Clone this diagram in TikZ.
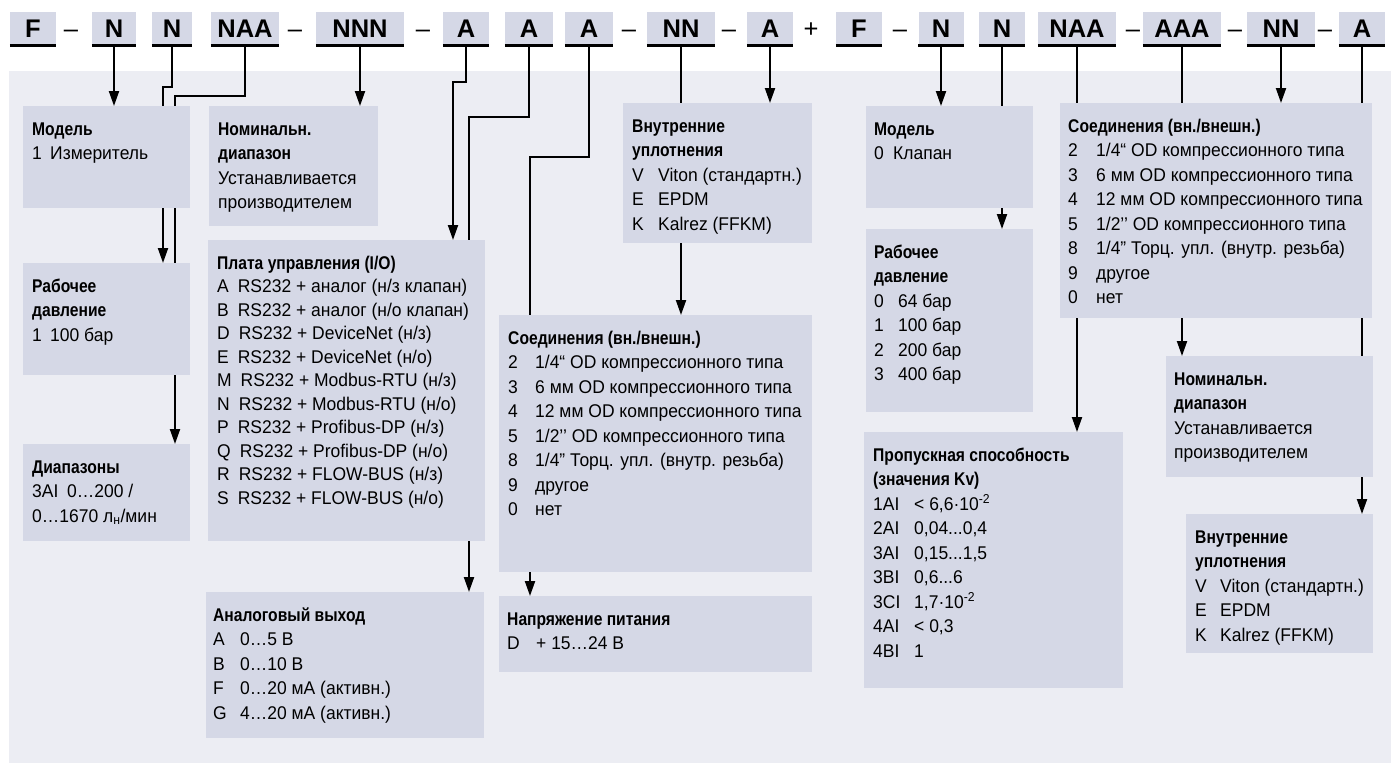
\documentclass[tikz,border=0pt]{standalone}
\usepackage{fontspec}
\setmainfont{Liberation Sans}[FakeStretch=0.95, BoldFeatures={FakeStretch=0.85}]
\newfontfamily\hdrf{Liberation Sans}
\usetikzlibrary{arrows.meta}
\definecolor{panelc}{RGB}{236,237,243}
\definecolor{boxc}{RGB}{213,216,230}
\pgfdeclarelayer{panel}
\pgfdeclarelayer{lines}
\pgfsetlayers{panel,lines,main}
\newcommand\kv[3][27]{\makebox[#1pt][l]{#2}#3}
\newcommand\bt[2][24.5]{{\fontsize{18.4pt}{#1pt}\selectfont\begin{tabular}[t]{@{}l@{}}#2\end{tabular}}}
\newcommand\pl[2]{#1\hspace{9pt}#2}
\tikzset{
  hbox/.style={fill=boxc, inner sep=0pt, minimum height=34pt, text height=18.3pt, text depth=0pt, font=\hdrf\bfseries\fontsize{25.5pt}{30pt}\selectfont},
  hsep/.style={inner sep=0pt, text height=18.3pt, text depth=0pt, font=\hdrf\fontsize{25.5pt}{30pt}\selectfont},
  uline/.style={line width=2.5pt},
  obox/.style={fill=boxc, anchor=north west, inner sep=0pt, outer sep=0pt},
  otxt/.style={anchor=base west, inner sep=0pt},
  conn/.style={line width=2pt, -{Triangle[width=10pt,length=15pt]}},
}
\begin{document}
\begin{tikzpicture}[x=1pt,y=-1pt]
\useasboundingbox (0,0) rectangle (1391,763);
\begin{pgfonlayer}{panel}
  \fill[panelc] (9,71) rectangle (1391,763);
\end{pgfonlayer}

% ---------- header ----------
\node[hbox, minimum width=46pt] (hF) at (33,28.5) {F};
\node[hsep] (s1) at (71,28.5) {–};
\node[hbox, minimum width=44pt] (hN1) at (114,28.5) {N};
\node[hbox, minimum width=40pt] (hN2) at (172,28.5) {N};
\node[hbox, minimum width=68pt] (hNAA) at (245,28.5) {NAA};
\node[hsep] (s2) at (295,28.5) {–};
\node[hbox, minimum width=88pt] (hNNN) at (360,28.5) {NNN};
\node[hsep] (s3) at (423,28.5) {–};
\node[hbox, minimum width=46pt] (hA1) at (466,28.5) {A};
\node[hbox, minimum width=48pt] (hA2) at (529,28.5) {A};
\node[hbox, minimum width=48pt] (hA3) at (589,28.5) {A};
\node[hsep] (s4) at (629,28.5) {–};
\node[hbox, minimum width=68pt] (hNN) at (681,28.5) {NN};
\node[hsep] (s5) at (729,28.5) {–};
\node[hbox, minimum width=46pt] (hA4) at (770,28.5) {A};
\node[hsep] (s6) at (811,28.5) {+};
\node[hbox, minimum width=46pt] (hF2) at (859,28.5) {F};
\node[hsep] (s7) at (900,28.5) {–};
\node[hbox, minimum width=45pt] (hN3) at (941,28.5) {N};
\node[hbox, minimum width=46pt] (hN4) at (1002,28.5) {N};
\node[hbox, minimum width=78pt] (hNAA2) at (1077,28.5) {NAA};
\node[hsep] (s8) at (1133,28.5) {–};
\node[hbox, minimum width=78pt] (hAAA) at (1182,28.5) {AAA};
\node[hsep] (s9) at (1235,28.5) {–};
\node[hbox, minimum width=68pt] (hNN2) at (1281,28.5) {NN};
\node[hsep] (s10) at (1325,28.5) {–};
\node[hbox, minimum width=46pt] (hA5) at (1362,28.5) {A};
\foreach \n in {hF,hN1,hN2,hNAA,hNNN,hA1,hA2,hA3,hNN,hA4,hF2,hN3,hN4,hNAA2,hAAA,hNN2,hA5}
  \draw[uline] (\n.south west) -- (\n.south east);

% ---------- boxes ----------
\node[obox, minimum width=167pt, minimum height=102pt] (mod1) at (23,106) {};
\node[obox, minimum width=169pt, minimum height=120pt] (nom1) at (209,106) {};
\node[obox, minimum width=167pt, minimum height=112pt] (rab1) at (23,263) {};
\node[obox, minimum width=167pt, minimum height=97pt] (dia1) at (23,444) {};
\node[obox, minimum width=277pt, minimum height=301pt] (plata) at (208,240) {};
\node[obox, minimum width=278pt, minimum height=146pt] (analog) at (206,592) {};
\node[obox, minimum width=189pt, minimum height=140pt] (vnut1) at (623,103) {};
\node[obox, minimum width=313pt, minimum height=257pt] (soed1) at (499,315) {};
\node[obox, minimum width=313pt, minimum height=76pt] (pit) at (499,596) {};
\node[obox, minimum width=167pt, minimum height=102pt] (mod2) at (866,106) {};
\node[obox, minimum width=167pt, minimum height=183pt] (rab2) at (866,229) {};
\node[obox, minimum width=312pt, minimum height=215pt] (soed2) at (1060,103) {};
\node[obox, minimum width=259pt, minimum height=256pt] (prop) at (864,432) {};
\node[obox, minimum width=207pt, minimum height=121pt] (nom2) at (1166,356) {};
\node[obox, minimum width=187pt, minimum height=139pt] (vnut2) at (1186,514) {};

% ---------- texts ----------
\node[otxt] (mod1t) at ([shift={(9pt,-29pt)}]mod1.north west)
  {\bt{\textbf{Модель}\\\kv[18]{1}{Измеритель}}};
\node[otxt] (nom1t) at ([shift={(9pt,-29pt)}]nom1.north west)
  {\bt{\textbf{Номинальн.}\\\textbf{диапазон}\\Устанавливается\\производителем}};
\node[otxt] (rab1t) at ([shift={(9pt,-29pt)}]rab1.north west)
  {\bt{\textbf{Рабочее}\\\textbf{давление}\\\kv[18]{1}{100 бар}}};
\node[otxt] (dia1t) at ([shift={(9pt,-29pt)}]dia1.north west)
  {\bt{\textbf{Диапазоны}\\\kv[35]{3AI}{0…200 /}\\0…1670 л\textsubscript{н}/мин}};
\node[otxt] (platat) at ([shift={(9pt,-29pt)}]plata.north west)
  {\bt[23.5]{\textbf{Плата управления (I/O)}\\
   \pl{A}{RS232 + аналог (н/з клапан)}\\
   \pl{B}{RS232 + аналог (н/о клапан)}\\
   \pl{D}{RS232 + DeviceNet (н/з)}\\
   \pl{E}{RS232 + DeviceNet (н/о)}\\
   \pl{M}{RS232 + Modbus-RTU (н/з)}\\
   \pl{N}{RS232 + Modbus-RTU (н/о)}\\
   \pl{P}{RS232 + Profibus-DP (н/з)}\\
   \pl{Q}{RS232 + Profibus-DP (н/о)}\\
   \pl{R}{RS232 + FLOW-BUS (н/з)}\\
   \pl{S}{RS232 + FLOW-BUS (н/о)}}};
\node[otxt] (analogt) at ([shift={(7pt,-29pt)}]analog.north west)
  {\bt{\textbf{Аналоговый выход}\\\kv{A}{0…5 В}\\\kv{B}{0…10 В}\\\kv{F}{0…20 мА (активн.)}\\\kv{G}{4…20 мА (активн.)}}};
\node[otxt] (vnut1t) at ([shift={(9pt,-29pt)}]vnut1.north west)
  {\bt{\textbf{Внутренние}\\\textbf{уплотнения}\\\kv[26]{V}{Viton (стандартн.)}\\\kv[26]{E}{EPDM}\\\kv[26]{K}{Kalrez (FFKM)}}};
\node[otxt] (soed1t) at ([shift={(9pt,-29pt)}]soed1.north west)
  {\bt{\textbf{Соединения (вн./внешн.)}\\
   \kv{2}{1/4“ OD компрессионного типа}\\
   \kv{3}{6 мм OD компрессионного типа}\\
   \kv{4}{12 мм OD компрессионного типа}\\
   \kv{5}{1/2’’ OD компрессионного типа}\\
   \kv{8}{1/4” Торц. упл. (внутр. резьба)}\\
   \kv{9}{другое}\\
   \kv{0}{нет}}};
\node[otxt] (pitt) at ([shift={(8pt,-29pt)}]pit.north west)
  {\bt{\textbf{Напряжение питания}\\\kv[29]{D}{+ 15…24 В}}};
\node[otxt] (mod2t) at ([shift={(8pt,-29pt)}]mod2.north west)
  {\bt{\textbf{Модель}\\\kv[19]{0}{Клапан}}};
\node[otxt] (rab2t) at ([shift={(8pt,-29pt)}]rab2.north west)
  {\bt{\textbf{Рабочее}\\\textbf{давление}\\\kv[24]{0}{64 бар}\\\kv[24]{1}{100 бар}\\\kv[24]{2}{200 бар}\\\kv[24]{3}{400 бар}}};
\node[otxt] (soed2t) at ([shift={(8pt,-29pt)}]soed2.north west)
  {\bt{\textbf{Соединения (вн./внешн.)}\\
   \kv[28]{2}{1/4“ OD компрессионного типа}\\
   \kv[28]{3}{6 мм OD компрессионного типа}\\
   \kv[28]{4}{12 мм OD компрессионного типа}\\
   \kv[28]{5}{1/2’’ OD компрессионного типа}\\
   \kv[28]{8}{1/4” Торц. упл. (внутр. резьба)}\\
   \kv[28]{9}{другое}\\
   \kv[28]{0}{нет}}};
\node[otxt] (propt) at ([shift={(9pt,-29pt)}]prop.north west)
  {\bt{\textbf{Пропускная способность}\\\textbf{(значения Kv)}\\
   \kv[41]{1AI}{< 6,6·10\textsuperscript{-2}}\\
   \kv[41]{2AI}{0,04...0,4}\\
   \kv[41]{3AI}{0,15...1,5}\\
   \kv[41]{3BI}{0,6...6}\\
   \kv[41]{3CI}{1,7·10\textsuperscript{-2}}\\
   \kv[41]{4AI}{< 0,3}\\
   \kv[41]{4BI}{1}}};
\node[otxt] (nom2t) at ([shift={(8pt,-29pt)}]nom2.north west)
  {\bt{\textbf{Номинальн.}\\\textbf{диапазон}\\Устанавливается\\производителем}};
\node[otxt] (vnut2t) at ([shift={(9pt,-29pt)}]vnut2.north west)
  {\bt{\textbf{Внутренние}\\\textbf{уплотнения}\\\kv[25]{V}{Viton (стандартн.)}\\\kv[25]{E}{EPDM}\\\kv[25]{K}{Kalrez (FFKM)}}};

% ---------- connectors ----------
\coordinate (b2) at (163,87);
\coordinate (b3) at (175,96);
\coordinate (b5) at (453,82);
\coordinate (b6) at (469,117);
\coordinate (b7) at (530,157);
\begin{pgfonlayer}{lines}
  \draw[conn] (hN1.south) -- (mod1.north -| hN1.south);
  \draw[conn] (hN2.south) |- (b2) -- (rab1.north -| b2);
  \draw[conn] (hNAA.south) |- (b3) -- (dia1.north -| b3);
  \draw[conn] (hNNN.south) -- (nom1.north -| hNNN.south);
  \draw[conn] (hA1.south) |- (b5) -- (plata.north -| b5);
  \draw[conn] (hA2.south) |- (b6) -- (analog.north -| b6);
  \draw[conn] (hA3.south) |- (b7) -- (pit.north -| b7);
  \draw[conn] (hNN.south) -- (soed1.north -| hNN.south);
  \draw[conn] (hA4.south) -- (vnut1.north -| hA4.south);
  \draw[conn] (hN3.south) -- (mod2.north -| hN3.south);
  \draw[conn] (hN4.south) -- (rab2.north -| hN4.south);
  \draw[conn] (hNAA2.south) -- (prop.north -| hNAA2.south);
  \draw[conn] (hAAA.south) -- (nom2.north -| hAAA.south);
  \draw[conn] (hNN2.south) -- (soed2.north -| hNN2.south);
  \draw[conn] (hA5.south) -- (vnut2.north -| hA5.south);
\end{pgfonlayer}
\end{tikzpicture}
\end{document}
